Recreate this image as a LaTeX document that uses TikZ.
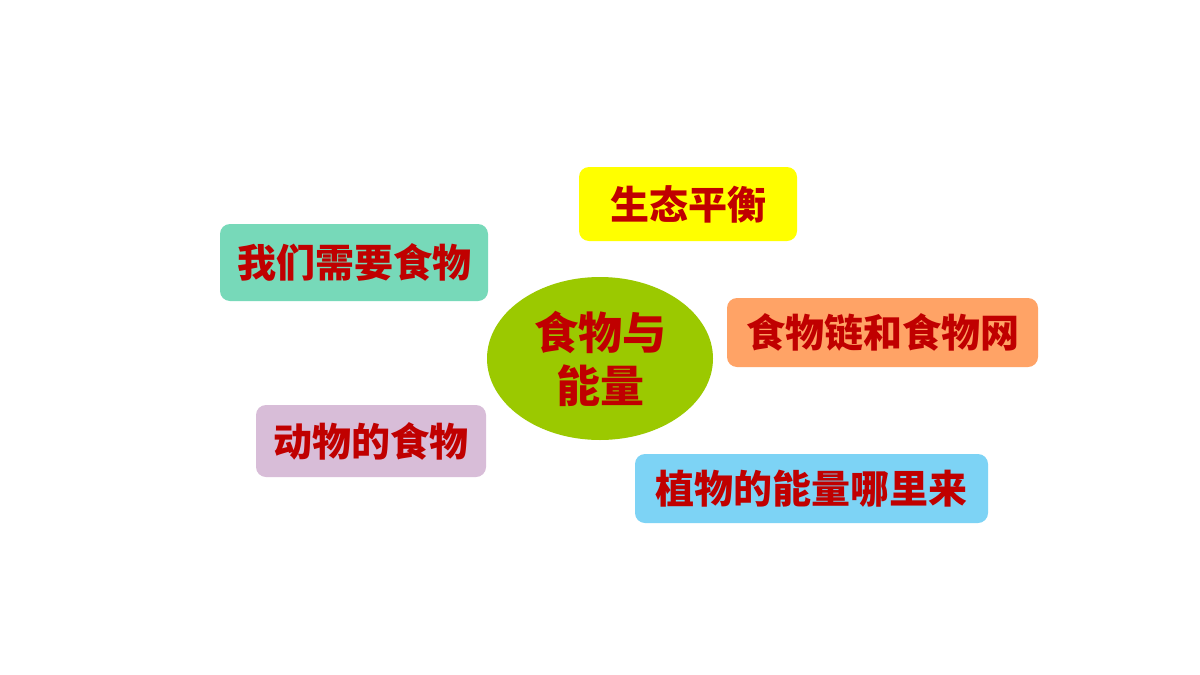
\documentclass[tikz,border=0pt]{standalone}
\usepackage{fontspec}
\setmainfont{Noto Sans CJK SC}
\usepackage{tikz}
\usetikzlibrary{shapes.geometric, positioning}

\definecolor{textred}{HTML}{C00000}
\definecolor{lemon}{HTML}{FFFF00}
\definecolor{mint}{HTML}{77D9B9}
\definecolor{peach}{HTML}{FFA366}
\definecolor{lilac}{HTML}{D8BDD8}
\definecolor{skyblue}{HTML}{7DD3F5}
\definecolor{leaf}{HTML}{9BC900}

\begin{document}
\begin{tikzpicture}[
  x=1pt, y=-1pt,
  box/.style={rectangle, rounded corners=10pt, inner sep=0pt, align=center},
  hub/.style={ellipse, fill=leaf, inner sep=0pt, align=center, minimum width=226pt, minimum height=163pt},
  every node/.style={font=\fontsize{39}{53}\selectfont\bfseries, text=textred}
]
\useasboundingbox[fill=white] (0,0) rectangle (1200,675);

% Central topic
\node[hub, font=\fontsize{44}{53}\selectfont\bfseries] (hub) at (600,358.5) {食物与\\能量};

% Sub topics
\node[box, fill=lemon, minimum width=218pt, minimum height=74pt] (balance) at (688,204) {生态平衡};
\node[box, fill=mint, minimum width=268pt, minimum height=77pt] (need) at (354,262.5) {我们需要食物};
\node[box, fill=peach, minimum width=311pt, minimum height=69pt] (chain) at (882.5,332.5) {食物链和食物网};
\node[box, fill=lilac, minimum width=230pt, minimum height=72pt] (animal) at (371,441) {动物的食物};
\node[box, fill=skyblue, minimum width=353pt, minimum height=69pt] (plant) at (811.5,488.5) {植物的能量哪里来};

\end{tikzpicture}
\end{document}
